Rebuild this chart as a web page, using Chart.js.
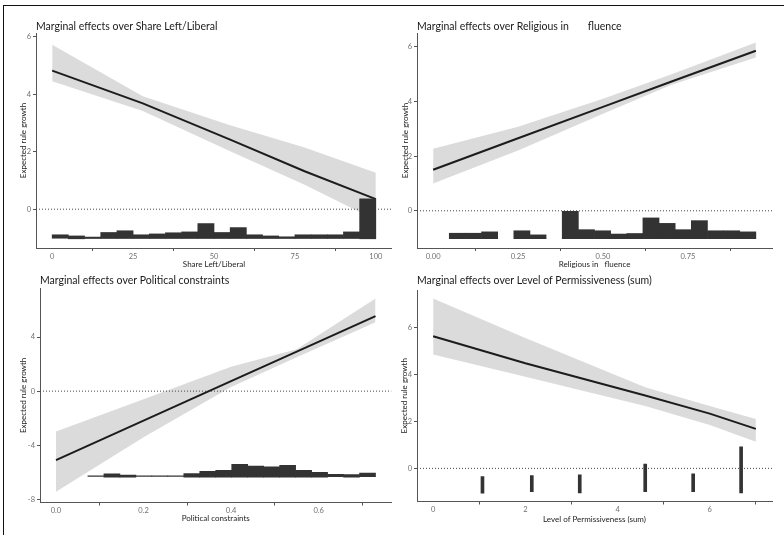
<!DOCTYPE html>
<html>
<head>
<meta charset="utf-8">
<script src="https://cdn.jsdelivr.net/npm/chart.js@4.4.1/dist/chart.umd.min.js"></script>
<style>
    html, body { margin: 0; padding: 0; background: #fff; }
    #wrap { position: relative; width: 784px; height: 535px; overflow: hidden; }
    #frame { position: absolute; left: 3px; top: 5px; right: -10px; bottom: -10px;
             border-left: 1.5px solid #111; border-top: 1.5px solid #111; }
    canvas { position: absolute; }
</style>
</head>
<body>
<div id="wrap">
    <div id="frame"></div>
    <canvas id="p1" width="392" height="270" style="left:0;top:0"></canvas>
    <canvas id="p2" width="392" height="270" style="left:392px;top:0"></canvas>
    <canvas id="p3" width="392" height="262" style="left:0;top:270px"></canvas>
    <canvas id="p4" width="392" height="262" style="left:392px;top:270px"></canvas>
</div>
<script>
//  Panel 1 - Share Left/Liberal
const leftX = [0, 28, 55, 78, 100];
const leftFit = [4.82, 3.68, 2.42, 1.32, 0.35];
const leftUpper = [5.72, 3.93, 2.92, 2.15, 1.27];
const leftLower = [4.45, 3.42, 2.02, 0.85, -0.38];
const leftBins = [2.5, 7.5, 12.5, 17.5, 22.5, 27.5, 32.5, 37.5, 42.5, 47.5,
                  52.5, 57.5, 62.5, 67.5, 72.5, 77.5, 82.5, 87.5, 92.5, 97.5];
const leftHist = [-0.89, -0.93, -0.97, -0.81, -0.75, -0.89, -0.86, -0.82, -0.79, -0.50,
                  -0.81, -0.64, -0.89, -0.93, -0.96, -0.89, -0.89, -0.89, -0.79, 0.36];
const leftHistBase = [-1.01, -1.03, -1.02, -1.02, -1.02, -1.02, -1.02, -1.02, -1.02, -1.02,
                      -1.02, -1.02, -1.02, -1.02, -1.02, -1.02, -1.02, -1.02, -1.02, -1.03];
const leftXTicks = [0, 25, 50, 75, 100];
const leftXLabels = ["0", "25", "50", "75", "100"];
const leftYTicks = [0, 2, 4, 6];

//  Panel 2 - Religious influence
const relX = [0, 0.25, 0.5, 0.7, 0.95];
const relFit = [1.5, 2.65, 3.8, 4.72, 5.85];
const relUpper = [2.27, 3.07, 4.1, 4.98, 6.15];
const relLower = [1.0, 2.2, 3.55, 4.6, 5.6];
const relBins = [0.02375, 0.07125, 0.11875, 0.16625, 0.21375, 0.26125, 0.30875, 0.35625, 0.40375, 0.45125,
                 0.49875, 0.54625, 0.59375, 0.64125, 0.68875, 0.73625, 0.78375, 0.83125, 0.87875, 0.92625];
const relHist = [null, -0.82, -0.82, -0.77, null, -0.73, -0.88, null, 0.0, -0.69,
                 -0.73, -0.85, -0.83, -0.26, -0.46, -0.69, -0.36, -0.73, -0.73, -0.77];
const relHistBase = [-1.02, -1.02, -1.02, -1.02, -1.02, -1.02, -1.02, -1.02, -1.02, -1.02,
                     -1.02, -1.02, -1.02, -1.02, -1.02, -1.02, -1.02, -1.02, -1.02, -1.02];
const relXTicks = [0, 0.25, 0.5, 0.75];
const relXLabels = ["0.00", "0.25", "0.50", "0.75"];
const relYTicks = [0, 2, 4, 6];

//  Panel 3 - Political constraints
const polX = [0, 0.2, 0.4, 0.55, 0.73];
const polFit = [-5.1, -2.18, 0.74, 2.92, 5.55];
const polUpper = [-2.98, -0.6, 1.8, 3.1, 6.85];
const polLower = [-7.44, -3.4, 0.3, 2.5, 5.1];
const polBins = [0.01825, 0.05475, 0.09125, 0.12775, 0.16425, 0.20075, 0.23725, 0.27375, 0.31025, 0.34675,
                 0.38325, 0.41975, 0.45625, 0.49275, 0.52925, 0.56575, 0.60225, 0.63875, 0.67525, 0.71175];
const polHist = [null, null, -6.26, -6.12, -6.2, -6.26, -6.26, -6.26, -6.10, -5.93,
                 -5.85, -5.41, -5.53, -5.60, -5.48, -5.85, -6.0, -6.15, -6.17, -6.05];
const polHistBase = [-6.3, -6.3, -6.3, -6.35, -6.35, -6.3, -6.3, -6.3, -6.35, -6.35,
                     -6.35, -6.35, -6.35, -6.35, -6.35, -6.35, -6.35, -6.33, -6.35, -6.33];
const polXTicks = [0, 0.2, 0.4, 0.6];
const polXLabels = ["0.0", "0.2", "0.4", "0.6"];
const polYTicks = [-8, -4, 0, 4];

//  Panel 4 - Level of Permissiveness (sum)
const permX = [0, 2, 4.6, 6, 7];
const permFit = [5.62, 4.47, 3.1, 2.33, 1.68];
const permUpper = [7.23, 5.55, 3.45, 2.65, 2.1];
const permLower = [4.85, 3.9, 2.65, 1.85, 1.13];
const permBins = [1.07, 2.14, 3.18, 4.60, 5.64, 6.68];
const permHist = [-0.35, -0.31, -0.28, 0.18, -0.23, 0.92];
const permHistBase = [-1.06, -0.99, -1.04, -0.99, -0.99, -1.04];
const permXTicks = [0, 2, 4, 6];
const permXLabels = ["0", "2", "4", "6"];
const permYTicks = [0, 2, 4, 6];

const FONT = "Lato, 'Open Sans', sans-serif";

function toPoints(xs, ys) {
    return xs.map((x, i) => ({ x: x, y: ys[i] }));
}

function toBars(xs, tops, bases) {
    return xs.map((x, i) => ({ x: x, y: tops[i] === null ? null : [bases[i], tops[i]] }));
}

function buildPanel(id, p) {
    const ctx = document.getElementById(id).getContext("2d");
    const axisGrey = "#555";
    const tickFont = { family: FONT, size: 7.5 };
    const titleFont = { family: FONT, size: 8, lineHeight: 1.2 };

    new Chart(ctx, {
        type: "line",
        data: {
            datasets: [
                {
                    type: "bar",
                    data: toBars(p.bins, p.hist, p.histBase),
                    backgroundColor: "#333",
                    borderWidth: 0,
                    barPercentage: 1,
                    categoryPercentage: 1,
                    barThickness: p.barThickness,
                    order: 0
                },
                {
                    data: toPoints(p.x, p.fit),
                    borderColor: "#1c1c1c",
                    borderWidth: 2,
                    pointRadius: 0,
                    fill: false,
                    order: 1
                },
                {
                    data: [{ x: p.xMin, y: 0 }, { x: p.xMax, y: 0 }],
                    borderColor: "#444",
                    borderWidth: 1,
                    borderDash: [1, 2],
                    pointRadius: 0,
                    fill: false,
                    order: 2
                },
                {
                    data: toPoints(p.x, p.upper),
                    borderWidth: 0,
                    borderColor: "rgba(0,0,0,0)",
                    backgroundColor: "#dbdbdb",
                    pointRadius: 0,
                    fill: "+1",
                    order: 3
                },
                {
                    data: toPoints(p.x, p.lower),
                    borderWidth: 0,
                    borderColor: "rgba(0,0,0,0)",
                    pointRadius: 0,
                    fill: false,
                    order: 4
                }
            ]
        },
        options: {
            responsive: false,
            animation: false,
            layout: { padding: { top: p.padTop, left: 0, right: p.padRight, bottom: 0 } },
            plugins: {
                legend: { display: false },
                tooltip: { enabled: false },
                title: {
                    display: true,
                    text: p.title,
                    align: "start",
                    fullSize: false,
                    color: "#1a1a1a",
                    font: { family: FONT, size: 10.5, weight: "normal", lineHeight: 1 },
                    padding: { top: 0, bottom: p.titleGap }
                }
            },
            scales: {
                x: {
                    type: "linear",
                    min: p.xMin,
                    max: p.xMax,
                    offset: false,
                    afterBuildTicks: s => { s.ticks = p.xTicks.map(v => ({ value: v })); },
                    afterFit: s => { s.height = p.xAxisH; },
                    ticks: {
                        autoSkip: false,
                        maxRotation: 0,
                        padding: 1,
                        color: "#707070",
                        font: tickFont,
                        callback: (v, i) => p.xLabels[i]
                    },
                    grid: { drawOnChartArea: false, drawTicks: true, tickLength: 3, color: axisGrey },
                    border: { display: true, color: axisGrey, width: 1 },
                    title: {
                        display: true,
                        text: p.xTitle,
                        color: "#222",
                        font: titleFont,
                        padding: { top: 0, bottom: p.xTitlePad }
                    }
                },
                y: {
                    type: "linear",
                    min: p.yMin,
                    max: p.yMax,
                    afterBuildTicks: s => { s.ticks = p.yTicks.map(v => ({ value: v })); },
                    afterFit: s => { s.width = p.yAxisW; },
                    ticks: {
                        autoSkip: false,
                        padding: 2,
                        color: "#707070",
                        font: tickFont,
                        callback: v => String(v)
                    },
                    grid: { drawOnChartArea: false, drawTicks: true, tickLength: 3, color: axisGrey },
                    border: { display: true, color: axisGrey, width: 1 },
                    title: {
                        display: true,
                        text: "Expected rule growth",
                        color: "#222",
                        font: titleFont,
                        padding: { top: p.yTitlePad, bottom: 0 }
                    }
                }
            }
        }
    });
}

buildPanel("p1", {
    title: "Marginal effects over Share Left/Liberal",
    xTitle: "Share Left/Liberal",
    x: leftX, fit: leftFit, upper: leftUpper, lower: leftLower,
    bins: leftBins, hist: leftHist, histBase: leftHistBase,
    xTicks: leftXTicks, xLabels: leftXLabels, yTicks: leftYTicks,
    xMin: -5, xMax: 105, yMin: -1.35, yMax: 6.13,
    padTop: 21.45, titleGap: 1.05, padRight: 0,
    yAxisW: 36, xAxisH: 22, xTitlePad: 1.2, yTitlePad: 18.2
});

buildPanel("p2", {
    title: "Marginal effects over Religious in       fluence",
    xTitle: "Religious in   fluence",
    x: relX, fit: relFit, upper: relUpper, lower: relLower,
    bins: relBins, hist: relHist, histBase: relHistBase,
    xTicks: relXTicks, xLabels: relXLabels, yTicks: relYTicks,
    xMin: -0.0475, xMax: 0.9975, yMin: -1.36, yMax: 6.5,
    padTop: 21.45, titleGap: 1.05, padRight: 12,
    yAxisW: 25, xAxisH: 22, xTitlePad: 1.2, yTitlePad: 8.2
});

buildPanel("p3", {
    title: "Marginal effects over Political constraints",
    xTitle: "Political constraints",
    x: polX, fit: polFit, upper: polUpper, lower: polLower,
    bins: polBins, hist: polHist, histBase: polHistBase,
    xTicks: polXTicks, xLabels: polXLabels, yTicks: polYTicks,
    xMin: -0.0365, xMax: 0.7665, yMin: -8.23, yMax: 7.6,
    padTop: 5.45, titleGap: 2.35, padRight: 0.5,
    yAxisW: 40, xAxisH: 29.5, xTitlePad: 8.9, yTitlePad: 18.2
});

buildPanel("p4", {
    title: "Marginal effects over Level of Permissiveness (sum)",
    xTitle: "Level of Permissiveness (sum)",
    x: permX, fit: permFit, upper: permUpper, lower: permLower,
    bins: permBins, hist: permHist, histBase: permHistBase,
    barThickness: 3,
    xTicks: permXTicks, xLabels: permXLabels, yTicks: permYTicks,
    xMin: -0.35, xMax: 7.35, yMin: -1.41, yMax: 7.59,
    padTop: 5.45, titleGap: 4.05, padRight: 12,
    yAxisW: 25, xAxisH: 30.5, xTitlePad: 7.9, yTitlePad: 7.9
});
</script>
</body>
</html>
